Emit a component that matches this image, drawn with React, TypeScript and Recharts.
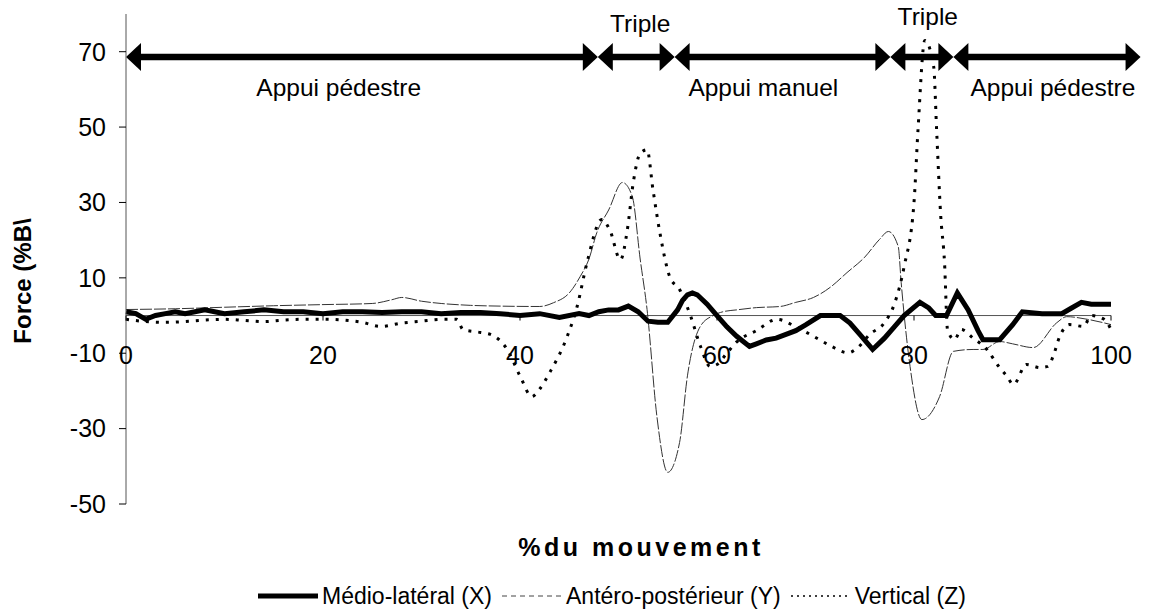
import React from 'react';
import {
  LineChart,
  Line,
  XAxis,
  YAxis,
  ReferenceLine,
  ReferenceDot,
  Legend,
} from 'recharts';

// Médio-latéral (X)
const mlX = [0, 1, 2, 3, 4, 5, 6, 7, 8, 9, 10, 12, 14, 16, 18, 20, 22, 24, 26, 28, 30, 32, 34, 36, 38, 40, 42, 44, 46, 47, 48, 49, 50, 51, 52, 53, 54, 55, 56, 56.5, 57, 57.5, 58, 59, 60, 61, 62, 63.3, 64, 65, 66, 67, 68, 69, 70.5, 72.5, 73.5, 74.5, 75.8, 77, 78, 79, 80.6, 81.5, 82.2, 83.3, 84.4, 85.5, 86.5, 87, 88.7, 90, 91, 93, 95, 96, 97, 98, 99, 100];
const mlF = [1, 0.5, -1, 0, 0.5, 1, 0.5, 1, 1.5, 1, 0.5,
  1, 1.5, 1, 1, 0.5, 1, 1, 0.8, 1, 1, 0.5, 0.8, 0.8, 0.5, 0, 0.5, -0.5, 0.5,
  0, 1, 1.5, 1.5, 2.5, 1, -1.5, -1.8, -1.8,
  1.5, 4, 5.5, 6, 5.5,
  3, 0, -3, -5.5, -8.2, -7.5, -6.5, -6, -5, -4, -2.5,
  0, 0, -2, -5, -9, -6, -3, 0,
  3.5, 2, 0, 0, 6, 1.5, -4, -6.4, -6.4,
  -2.5, 1, 0.5, 0.5, 2, 3.5, 3, 3, 3];

// Antéro-postérieur (Y)
const apX = [0, 5, 10, 15, 20, 25, 27, 28, 30, 32, 35, 38, 42, 43.4, 45, 46.1, 47, 47.8, 49, 50.4, 51.4, 52.2, 52.9, 53.9, 55, 56.2, 57, 58.3, 59.6, 60.6, 62, 64, 66.4, 68, 69.8, 71.5, 73.2, 75, 76.5, 77.4, 78.4, 78.7, 79.6, 80.8, 82.6, 84, 86, 87, 88.7, 90, 92.1, 94.5, 95.5, 97.6, 100];
const apF = [1.6, 1.8, 2.2, 2.6, 2.9, 3.2,
  4.2, 4.8, 3.8, 3.2, 2.7, 2.5,
  2.4, 3.4, 6, 10.3, 15, 22, 28,
  35.3, 31.6, 15, 1.6, -26.8, -41.6, -33.7, -16, -2.9,
  0, 1, 1.5, 2.1, 2.4, 3.5, 4.8,
  7.5, 11.4, 15.5, 20.2, 22.3, 18.3, 8.7, -13.5, -27.6,
  -21.5, -9.5, -9, -9, -6.9, -7.5, -8.5,
  -1.9, -0.3, -1, -2.4];

// Vertical (Z)
const vX = [0, 2, 4, 6, 8, 10, 12, 14, 16, 18, 20, 22, 24, 25.8, 28, 30, 32, 33.6, 34.2, 36, 37, 38.7, 40, 41.2, 42, 43, 44.8, 45.8, 46.8, 48.3, 49.1, 50.2, 50.9, 51.5, 52.2, 52.9, 53.5, 54.2, 55.2, 56.2, 57.3, 58.3, 59.3, 60, 61, 62, 64, 66.1, 68, 69.8, 71.5, 73.3, 74.3, 75.5, 77, 78, 79, 80, 80.4, 81.1, 82, 82.3, 82.7, 83.1, 83.4, 84.1, 84.8, 86, 87.4, 88.6, 89.4, 90.1, 91.4, 92.8, 93.6, 94.1, 94.8, 95.8, 97.2, 98, 99.3, 100];
const vF = [-1, -1.6, -1.8, -1.6, -1.2, -1, -1.3, -1.6, -1.2, -1, -1, -1.2, -1.8,
  -2.9, -2, -1.5, -1, -1, -3.7, -4.5, -5, -9, -16,
  -21.5, -19.5, -15.2, -5.5, 2.4, 14, 25.5, 22.8, 14.8, 22.8,
  35.3, 43, 44, 33.4, 22, 10.3, 6.9, 0, -8, -13.5,
  -13, -10, -7, -4, -1, -3, -5.5, -8, -9.9, -8.5,
  -5, -1.9, 3, 13, 30, 49, 73, 66, 49, 27,
  14, -3.7, -6.4, -3.7, -6, -9, -13.5, -16, -18.3, -13,
  -13.8, -13.5, -11, -5.5, -2.4, -2.9, 0, -1, -3.7];

// phases (arrows at the top)
const phaseBounds = [0, 47.9, 55.7, 77.6, 84.0, 103];
const phaseY = 68.6;
const phaseLabels = ['Appui pédestre', 'Triple', 'Appui manuel', 'Triple', 'Appui pédestre'];
const phaseLabelX = [21.6, 52.2, 64.7, 81.4, 94.1];
const phaseLabelY = [60.5, 77.5, 60.5, 79.3, 60.5];

const xTicks = [0, 20, 40, 60, 80, 100];
const yTicks = [-50, -30, -10, 10, 30, 50, 70];
const Y_MIN = -50;
const Y_MAX = 80;

const FONT = '"Liberation Sans", Arial, sans-serif';
const W = 1150;
const H = 614;
const PLOT_TOP = 14;
const PLOT_BOTTOM = 504;
const ZERO_Y = PLOT_TOP + ((PLOT_BOTTOM - PLOT_TOP) * Y_MAX) / (Y_MAX - Y_MIN);

const toPoints = (xs: number[], ys: number[]) => xs.map((x, i) => ({ x, f: ys[i] }));

const mlData = toPoints(mlX, mlF);
const apData = toPoints(apX, apF);
const vData = toPoints(vX, vF);

const XTick = (props: any) => {
  const { x, payload } = props;
  return (
    <g>
      <line x1={x} x2={x} y1={ZERO_Y} y2={ZERO_Y + 5} stroke="#000" />
      <text x={x} y={ZERO_Y + 39} textAnchor="middle" dominantBaseline="central" fontSize={25} fill="#000" fontFamily={FONT}>
        {payload.value}
      </text>
    </g>
  );
};

const arrowShape = (p: any) => {
  const { x1, y1, x2, y2 } = p;
  const L = 15;
  const HW = 14;
  return (
    <g>
      <line x1={x1 + L - 1} y1={y1} x2={x2 - L + 1} y2={y2} stroke="#000" strokeWidth={6.5} />
      <polygon points={`${x1},${y1} ${x1 + L},${y1 - HW} ${x1 + L},${y1 + HW}`} fill="#000" />
      <polygon points={`${x2},${y2} ${x2 - L},${y2 - HW} ${x2 - L},${y2 + HW}`} fill="#000" />
    </g>
  );
};

const legendItems = [
  { name: 'Médio-latéral (X)', width: 5, dash: undefined as string | undefined, color: '#000' },
  { name: 'Antéro-postérieur (Y)', width: 1, dash: '5 4', color: '#444' },
  { name: 'Vertical (Z)', width: 1.5, dash: '2 4', color: '#000' },
];

const renderLegend = () => (
  <div style={{ display: 'flex', alignItems: 'center', paddingLeft: 258, height: 30, fontFamily: FONT, fontSize: 23, color: '#000' }}>
    {legendItems.map((it) => (
      <div key={it.name} style={{ display: 'flex', alignItems: 'center', marginRight: 10 }}>
        <svg width={60} height={10} style={{ marginRight: 4 }}>
          <line x1={0} x2={60} y1={5} y2={5} stroke={it.color} strokeWidth={it.width} strokeDasharray={it.dash} />
        </svg>
        <span>{it.name}</span>
      </div>
    ))}
  </div>
);

export default function App() {
  return (
    <div style={{ position: 'absolute', left: 0, top: 0, width: W, height: H, background: '#fff' }}>
      <LineChart width={W} height={H} margin={{ top: PLOT_TOP, right: 39, bottom: 3, left: 66 }}>
        <XAxis
          type="number"
          dataKey="x"
          domain={[0, 100]}
          ticks={xTicks}
          interval={0}
          axisLine={false}
          tickLine={false}
          tick={<XTick />}
          height={77}
          label={{
            content: () => (
              <text x={641} y={547} textAnchor="middle" dominantBaseline="central" fontSize={25} fontWeight="bold" letterSpacing={3.5} fill="#000" fontFamily={FONT}>
                %du mouvement
              </text>
            ),
          }}
        />
        <YAxis
          type="number"
          domain={[Y_MIN, Y_MAX]}
          ticks={yTicks}
          interval={0}
          width={60}
          tickSize={7}
          tickMargin={13}
          axisLine={{ stroke: '#555' }}
          tickLine={{ stroke: '#000' }}
          tick={{ fontSize: 25, fill: '#000', fontFamily: FONT }}
          label={{
            content: () => (
              <text transform="translate(22,281) rotate(-90)" textAnchor="middle" dominantBaseline="central" fontSize={24} fontWeight="bold" fill="#000" fontFamily={FONT}>
                {'Force (%B\\'}
              </text>
            ),
          }}
        />
        <Legend verticalAlign="bottom" content={renderLegend} wrapperStyle={{ left: 0, width: W, height: 30 }} />
        <ReferenceLine y={0} stroke="#555" strokeWidth={1} />
        <Line data={apData} dataKey="f" name="Antéro-postérieur (Y)" type="monotone" stroke="#333" strokeWidth={1} strokeDasharray="12 2" dot={false} isAnimationActive={false} />
        <Line data={vData} dataKey="f" name="Vertical (Z)" type="monotone" stroke="#000" strokeWidth={3} strokeDasharray="3 7" dot={false} isAnimationActive={false} />
        <Line data={mlData} dataKey="f" name="Médio-latéral (X)" type="linear" stroke="#000" strokeWidth={5} dot={false} isAnimationActive={false} />
        {phaseBounds.slice(0, -1).map((b, i) => (
          <ReferenceLine
            key={`ph${i}`}
            segment={[{ x: b, y: phaseY }, { x: phaseBounds[i + 1], y: phaseY }]}
            ifOverflow="visible"
            shape={arrowShape}
          />
        ))}
        {phaseLabels.map((t, i) => (
          <ReferenceDot
            key={`pl${i}`}
            x={phaseLabelX[i]}
            y={phaseLabelY[i]}
            r={0}
            fill="none"
            stroke="none"
            ifOverflow="visible"
            label={{ value: t, position: 'center', fontSize: 24.5, fill: '#000', fontFamily: FONT }}
          />
        ))}
      </LineChart>
    </div>
  );
}
